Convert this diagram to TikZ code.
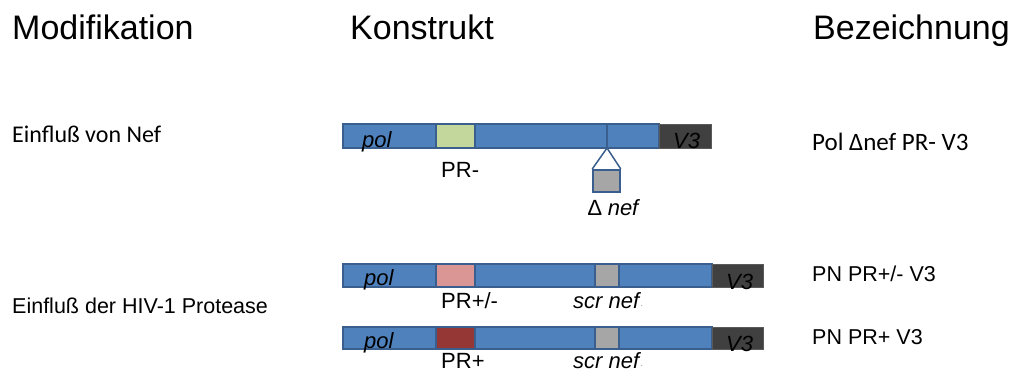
\documentclass[tikz,border=0pt]{standalone}
\usepackage{fontspec}
\setmainfont{Liberation Sans}
\newfontfamily\calibrifont{Carlito}
\definecolor{barblue}{HTML}{4F81BD}
\definecolor{barline}{HTML}{3A5F8E}
\definecolor{vthree}{HTML}{404040}
\definecolor{vthreeline}{HTML}{5A5A5A}
\definecolor{prminus}{HTML}{C3D69B}
\definecolor{prpm}{HTML}{D99694}
\definecolor{prplus}{HTML}{953735}
\definecolor{nefgray}{HTML}{A6A6A6}
\tikzset{
  lbl/.style={inner sep=0pt, anchor=base west, font=\fontsize{22}{26}\selectfont},
  head/.style={inner sep=0pt, anchor=base west, font=\fontsize{34}{38}\selectfont},
  barbody/.style={draw=barline, fill=barblue, line width=1.5pt},
  vbox/.style={draw=vthreeline, fill=vthree, line width=1pt},
  insert/.style={draw=barline, line width=1.5pt}
}
\begin{document}
\begin{tikzpicture}[x=1pt,y=-1pt]
\useasboundingbox[fill=white] (0,0) rectangle (1014,373);
% headings
\node[head] (h1) at (12,39) {Modifikation};
\node[head] (h2) at (350,39) {Konstrukt};
\node[head] (h3) at (813,39) {Bezeichnung};
% left labels
\node[lbl, font=\calibrifont\fontsize{24}{28}\selectfont] (m1) at (12,142) {Einfluß von Nef};
\node[lbl, font=\fontsize{21.5}{26}\selectfont] (m2) at (12,313) {Einfluß der HIV-1 Protease};
% right labels
\node[lbl, font=\calibrifont\fontsize{25}{28}\selectfont] (b1) at (812,150) {Pol ∆nef PR- V3};
\node[lbl, font=\fontsize{21.5}{26}\selectfont] (b2) at (812,281) {PN PR+/- V3};
\node[lbl, font=\fontsize{21.5}{26}\selectfont] (b3) at (812,344) {PN PR+ V3};

% ---- construct 1
\draw[barbody] (343,124) rectangle (659,148);
\draw[vbox] (659,124) rectangle (711,148);
\draw[insert, fill=prminus] (436,124) rectangle (475,148);
\coordinate (cut) at (607,124);
\coordinate (apex) at (607,148);
\draw[insert] (cut) -- (apex);
\node[lbl, font=\fontsize{22}{26}\selectfont\itshape] (pol1) at (362,147) {pol};
\node[lbl, font=\fontsize{22}{26}\selectfont\itshape] (v31) at (673,148) {V3};
\node[lbl] (pr1) at (441,177) {PR-};
\node[insert, fill=nefgray, minimum width=27pt, minimum height=22pt, inner sep=0pt, anchor=north] (del) at (606.5,169) {};
\draw[insert, line join=round] (del.north west) -- (apex) -- (del.north east);
\node[lbl] (dn) at (588,215) {∆ \textit{nef}};

% ---- construct 2
\draw[barbody] (343,264) rectangle (712,287);
\draw[vbox] (712,264) rectangle (763,287);
\draw[insert, fill=prpm] (436,264) rectangle (475,287);
\draw[insert, fill=nefgray] (595,264) rectangle (619,287);
\node[lbl, font=\fontsize{22}{26}\selectfont\itshape] (pol2) at (364,285) {pol};
\node[lbl, font=\fontsize{22}{26}\selectfont\itshape] (v32) at (726,289) {V3};
\node[lbl] (pr2) at (441,308) {PR+/-};
\node[lbl] (sn2) at (573,308) {\textit{scr nef}{\fontsize{6}{7}\selectfont\raisebox{2pt}{.}}};

% ---- construct 3
\draw[barbody] (343,327) rectangle (712,349);
\draw[vbox] (712,327) rectangle (763,349);
\draw[insert, fill=prplus] (436,327) rectangle (475,349);
\draw[insert, fill=nefgray] (595,327) rectangle (619,349);
\node[lbl, font=\fontsize{22}{26}\selectfont\itshape] (pol3) at (364,348) {pol};
\node[lbl, font=\fontsize{22}{26}\selectfont\itshape] (v33) at (726,351) {V3};
\node[lbl] (pr3) at (441,368) {PR+};
\node[lbl] (sn3) at (573,368) {\textit{scr nef}{\fontsize{6}{7}\selectfont\raisebox{2pt}{.}}};
\end{tikzpicture}
\end{document}
